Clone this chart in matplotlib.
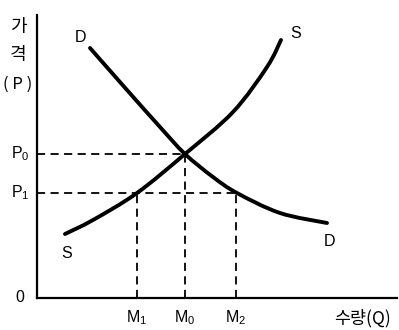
import matplotlib
matplotlib.use("Agg")
import matplotlib.pyplot as plt
from matplotlib.path import Path
from matplotlib.patches import PathPatch

plt.rcParams['font.family'] = ['Noto Sans CJK KR', 'DejaVu Sans']
plt.rcParams['mathtext.fontset'] = 'custom'
plt.rcParams['mathtext.rm'] = 'Liberation Sans'

# Supply curve S (quantity, price)
s_q = [28, 56, 100, 148, 196, 230, 244]
s_p = [64, 78, 105, 144, 186, 231, 258]
# Demand curve D
d_q = [53, 90, 123, 148, 176, 200, 243, 290]
d_p = [250, 208, 171, 144, 121, 105, 85, 75]

# Reference quantities and prices
m_labels = ['M_1', 'M_0', 'M_2']
m_vals = [100, 148, 199]
p_labels = ['P_0', 'P_1']
p_vals = [144, 105]


def smooth_path(xs, ys):
    """Cubic Bezier path through the read points (Catmull-Rom tangents)."""
    pts = list(zip(xs, ys))
    verts = [pts[0]]
    codes = [Path.MOVETO]
    n = len(pts)
    for i in range(n - 1):
        p0 = pts[i - 1] if i > 0 else pts[i]
        p1 = pts[i]
        p2 = pts[i + 1]
        p3 = pts[i + 2] if i + 2 < n else pts[i + 1]
        c1 = (p1[0] + (p2[0] - p0[0]) / 6, p1[1] + (p2[1] - p0[1]) / 6)
        c2 = (p2[0] - (p3[0] - p1[0]) / 6, p2[1] - (p3[1] - p1[1]) / 6)
        verts += [c1, c2, p2]
        codes += [Path.CURVE4] * 3
    return Path(verts, codes)


fig = plt.figure(figsize=(3.99, 3.30), dpi=100)
ax = fig.add_axes([37/399, 32/330, 360/399, 283/330])
ax.set_xlim(0, 360)
ax.set_ylim(0, 283)
for s in ['top', 'right']:
    ax.spines[s].set_visible(False)
for s in ['left', 'bottom']:
    ax.spines[s].set_linewidth(1.6)
ax.set_xticks([])
ax.set_yticks([])

for xs, ys in [(s_q, s_p), (d_q, d_p)]:
    ax.add_patch(PathPatch(smooth_path(xs, ys), fill=False, edgecolor='black',
                           lw=2.8, capstyle='round', joinstyle='round', zorder=3))

dash = (0, (4.5, 3))
# horizontal dashed lines
ax.plot([0, m_vals[1]], [p_vals[0], p_vals[0]], color='black', lw=1.3, ls=dash)
ax.plot([0, m_vals[2]], [p_vals[1], p_vals[1]], color='black', lw=1.3, ls=dash)
# vertical dashed lines
ax.plot([m_vals[0], m_vals[0]], [0, p_vals[1]], color='black', lw=1.3, ls=dash)
ax.plot([m_vals[1], m_vals[1]], [0, p_vals[0]], color='black', lw=1.3, ls=dash)
ax.plot([m_vals[2], m_vals[2]], [0, p_vals[1]], color='black', lw=1.3, ls=dash)

fs = 11.5
lat = 'Liberation Sans'
for lab, v in zip(m_labels, m_vals):
    ax.text(v, -20, r'$\mathrm{%s}$' % lab, ha='center', va='center',
            fontsize=fs, family=lat, clip_on=False)
for lab, v in zip(p_labels, p_vals):
    ax.text(-17, v, r'$\mathrm{%s}$' % lab, ha='center', va='center',
            fontsize=fs, family=lat, clip_on=False)
ax.text(-17, 0, '0', ha='center', va='center', fontsize=fs, family=lat, clip_on=False)

# curve labels
ax.text(43, 261, 'D', ha='center', va='center', fontsize=fs, family=lat)
ax.text(259, 265, 'S', ha='center', va='center', fontsize=fs, family=lat)
ax.text(30, 44, 'S', ha='center', va='center', fontsize=fs, family=lat)
ax.text(293, 56, 'D', ha='center', va='center', fontsize=fs, family=lat)

# axis titles
ax.text(-19, 271, '가', ha='center', va='center', fontsize=13, clip_on=False)
ax.text(-19, 243, '격', ha='center', va='center', fontsize=13, clip_on=False)
ax.text(-19, 214, '( P )', ha='center', va='center', fontsize=12, clip_on=False)
ax.text(326, -20, '수량(Q)', ha='center', va='center', fontsize=12.5, clip_on=False)

fig.savefig('out.png', dpi=100)
